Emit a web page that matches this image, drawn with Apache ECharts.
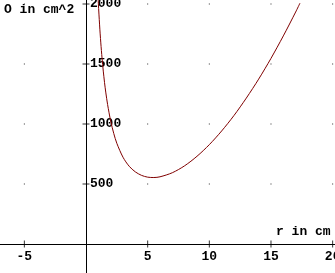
<!DOCTYPE html>
<html><head><meta charset="utf-8">
<script src="https://cdn.jsdelivr.net/npm/echarts@6/dist/echarts.min.js"></script>
<style>html,body{margin:0;padding:0;background:#fff}#c{width:335px;height:273px}</style>
</head><body><div id="c"></div>
<script>
const rValues = [0.98, 1.0, 1.1, 1.2, 1.3, 1.4, 1.5, 1.6, 1.75, 2.0, 2.25, 2.5, 3.0, 3.5, 4.0, 4.5, 5.0, 5.5, 6.0, 7.0, 8.0, 9.0, 10.0, 11.0, 12.0, 13.0, 14.0, 15.0, 16.0, 17.0, 17.35];
const oValues = [2047, 2006, 1826, 1676, 1549, 1441, 1347, 1266, 1162, 1025, 921, 839, 723, 648, 601, 572, 557, 554, 560, 594, 652, 731, 828, 942, 1071, 1216, 1374, 1547, 1734, 1933, 2007];
const xTicks = [-5, 5, 10, 15, 20];
const yTicks = [500, 1000, 1500, 2000];
const xName = 'r in cm';
const yName = 'O in cm^2';

const FONT = 'Liberation Mono';
const curve = rValues.map((r, i) => [r, oValues[i]]);
const dots = [];
xTicks.forEach(x => yTicks.forEach(y => dots.push([x, y])));
const xTickMarks = xTicks.map(x => [x, 0]);
const yTickMarks = yTicks.map(y => [0, y]);

const X0 = 86, Y0 = 244; // pixel of origin
const L = -37.3, R = -59.3, T = -56, B = -31;
const hidden = {show: false};
const lbl = {color: '#000', fontFamily: FONT, fontWeight: 'bold', fontSize: 13};

const chart = echarts.init(document.getElementById('c'), null, {renderer: 'canvas'});
chart.setOption({
  animation: false,
  backgroundColor: '#fff',
  grid: [
    {left: L, right: R, top: T, bottom: B, outerBoundsMode: 'none'},
    {left: L, right: R, top: T, bottom: 273 - Y0, outerBoundsMode: 'none'},
    {left: X0, right: R, top: T, bottom: B, outerBoundsMode: 'none'}
  ],
  xAxis: [
    {gridIndex: 0, type: 'value', min: -10, max: 25, interval: 5, axisLine: hidden, axisTick: hidden, axisLabel: hidden, splitLine: hidden},
    {gridIndex: 1, type: 'value', min: -10, max: 25, interval: 5, position: 'bottom',
      axisLine: {onZero: false, lineStyle: {color: '#000', width: 1}}, axisTick: hidden, splitLine: hidden,
      axisLabel: Object.assign({margin: 6, formatter: v => xTicks.indexOf(v) >= 0 ? String(v) : ''}, lbl)},
    {gridIndex: 2, type: 'value', min: 0, max: 1, axisLine: hidden, axisTick: hidden, axisLabel: hidden, splitLine: hidden}
  ],
  yAxis: [
    {gridIndex: 0, type: 'value', min: -500, max: 2500, interval: 500, axisLine: hidden, axisTick: hidden, axisLabel: hidden, splitLine: hidden},
    {gridIndex: 1, type: 'value', min: 0, max: 1, axisLine: hidden, axisTick: hidden, axisLabel: hidden, splitLine: hidden},
    {gridIndex: 2, type: 'value', min: -500, max: 2500, interval: 500, position: 'left',
      axisLine: {onZero: false, lineStyle: {color: '#000', width: 1}}, axisTick: hidden, splitLine: hidden,
      axisLabel: Object.assign({inside: true, margin: 4, formatter: v => yTicks.indexOf(v) >= 0 ? String(v) : ''}, lbl)}
  ],
  graphic: [
    {type: 'text', left: 4, top: 3, style: {text: yName, fill: '#000', font: 'bold 13px "' + FONT + '"'}},
    {type: 'text', left: 276, top: 225, style: {text: xName, fill: '#000', font: 'bold 13px "' + FONT + '"'}}
  ],
  series: [
    {type: 'scatter', data: dots, symbol: 'rect', symbolSize: 1, itemStyle: {color: '#000'}, silent: true},
    {type: 'scatter', data: xTickMarks, symbol: 'rect', symbolSize: [1, 7], itemStyle: {color: '#000'}, silent: true},
    {type: 'scatter', data: yTickMarks, symbol: 'rect', symbolSize: [7, 1], itemStyle: {color: '#000'}, silent: true},
    {type: 'line', data: curve, smooth: 0.3, showSymbol: false, lineStyle: {color: '#800000', width: 1}, silent: true}
  ]
});
</script>
</body></html>
